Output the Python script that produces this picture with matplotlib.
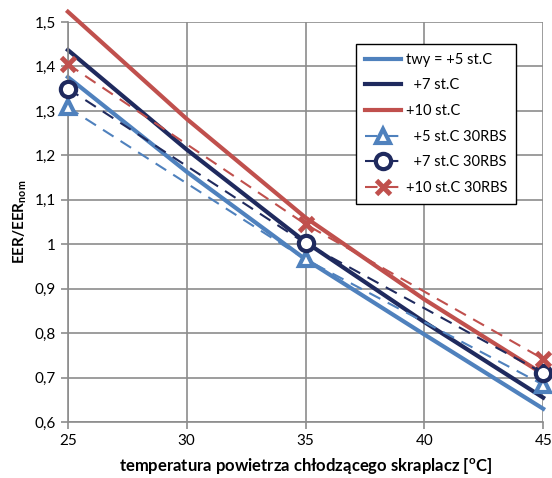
import matplotlib.pyplot as plt
from matplotlib.ticker import FuncFormatter, MultipleLocator

plt.rcParams['font.family'] = ['Lato', 'DejaVu Sans']

# condenser air temperature
t_line = [25, 30, 35, 40, 45]
t_pts = [25, 35, 45]

# solid curves (twy = +5, +7, +10 st.C)
eer_5 = [1.376, 1.163, 0.966, 0.797, 0.630]
eer_7 = [1.437, 1.213, 1.005, 0.825, 0.655]
eer_10 = [1.523, 1.282, 1.060, 0.876, 0.708]

# 30RBS points
rbs_5 = [1.308, 0.966, 0.684]
rbs_7 = [1.350, 1.002, 0.710]
rbs_10 = [1.405, 1.045, 0.742]

light_blue = '#4F81BD'
navy = '#1F2A5E'
red = '#C0504D'

fig = plt.figure(figsize=(5.52, 4.78), dpi=100)
ax = fig.add_axes([0.123, 0.117, 0.861, 0.837])

ax.plot(t_line, eer_5, color=light_blue, lw=3, label='twy = +5 st.C', clip_on=False)
ax.plot(t_line, eer_7, color=navy, lw=3, label='  +7 st.C', clip_on=False)
ax.plot(t_line, eer_10, color=red, lw=3, label='+10 st.C', clip_on=False)

ax.plot(t_pts, rbs_5, color=light_blue, lw=1.5, ls=(0, (6, 4)), marker='^', ms=10,
        mfc='white', mec=light_blue, mew=3, label='  +5 st.C 30RBS', clip_on=False, zorder=4)
ax.plot(t_pts, rbs_7, color=navy, lw=1.5, ls=(0, (6, 4)), marker='o', ms=11,
        mfc='white', mec=navy, mew=3, label='  +7 st.C 30RBS', clip_on=False, zorder=4)
ax.plot(t_pts, rbs_10, color=red, lw=1.5, ls=(0, (6, 4)), marker='x', ms=10,
        mec=red, mew=3.5, label='+10 st.C 30RBS', clip_on=False, zorder=4)

ax.set_xlim(25, 45)
ax.set_ylim(0.6, 1.5)
ax.xaxis.set_major_locator(MultipleLocator(5))
ax.yaxis.set_major_locator(MultipleLocator(0.1))
ax.yaxis.set_major_formatter(FuncFormatter(lambda v, p: f'{v:.1f}'.rstrip('0').rstrip('.').replace('.', ',')))

ax.grid(True, color='#8C8C8C', lw=1.2)
ax.set_axisbelow(True)
for s in ['top', 'right']:
    ax.spines[s].set_visible(False)
for s in ['left', 'bottom']:
    ax.spines[s].set_color('#8C8C8C')
    ax.spines[s].set_linewidth(1.2)
ax.tick_params(colors='#8C8C8C', labelcolor='black', labelsize=11, length=5, width=1.2)

ax.set_xlabel(r'temperatura powietrza chłodzącego skraplacz [$^\mathregular{o}$C]',
              fontsize=12, fontweight='bold', labelpad=6)
ax.set_ylabel(r'EER/EER$_\mathregular{nom}$', fontsize=11, fontweight='bold')

leg = ax.legend(loc='upper right', bbox_to_anchor=(0.943, 0.945), fontsize=10.5,
                handlelength=2.5, fancybox=False, framealpha=1, edgecolor='black',
                borderpad=0.6, labelspacing=0.8, handletextpad=0.3, borderaxespad=0)
leg.get_frame().set_linewidth(1.0)

fig.savefig('out.png', dpi=100)
